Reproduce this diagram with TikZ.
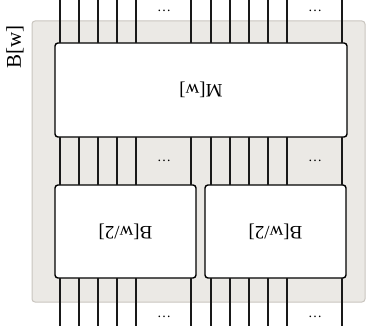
\documentclass[tikz,border=0pt]{standalone}
\usepackage{fontspec}
\setmainfont{Liberation Serif}
\usepackage{graphicx}
\usetikzlibrary{positioning, calc}
\definecolor{shell}{HTML}{EBE9E5}
\definecolor{shellline}{HTML}{C9C5BF}

\begin{document}
\begin{tikzpicture}[x=1pt, y=-1pt,
    blk/.style={draw, fill=white, line width=1.4pt, rounded corners=3pt, inner sep=0pt, outer sep=0pt, font=\fontsize{19}{20}\selectfont},
    wire/.style={line width=1.6pt, black!90},
    dots/.style={font=\fontsize{14}{15}\selectfont, inner sep=0pt}]
    \useasboundingbox (0,0) rectangle (366,336);
    % 外框 B[w]
    \draw[fill=shell, draw=shellline, line width=1pt, rounded corners=3pt] (32,21) rectangle (365,302);
    \node[rotate=90, font=\fontsize{21}{22}\selectfont] (bw) at (15,47) {B[w]};
    % 三个模块
    \node[blk, minimum width=292pt, minimum height=94pt] (M) at (201,90) {\rotatebox{180}{M[w]}};
    \node[blk, minimum width=141pt, minimum height=93pt] (BL) at (125.5,231.5) {\rotatebox{180}{B[w/2]}};
    \node[blk, minimum width=141pt, minimum height=93pt] (BR) at (275.5,231.5) {\rotatebox{180}{B[w/2]}};
    \coordinate (top) at (0,0);
    \coordinate (bot) at (0,326);
    % 连线
    \foreach \x in {60,79,98,117,136,191,211,230,249,268,287,342}{
        \draw[wire] (\x,0 |- top) -- (\x,0 |- M.north);
        \draw[wire] (\x,0 |- M.south) -- (\x,0 |- BL.north);
        \draw[wire] (\x,0 |- BL.south) -- (\x,0 |- bot);
    }
    \foreach \x in {164,315}{
        \node[dots] (dt\x) at (\x,11) {\ldots};
        \node[dots] (dm\x) at (\x,161) {\ldots};
        \node[dots] (db\x) at (\x,317) {\ldots};
    }
\end{tikzpicture}
\end{document}
